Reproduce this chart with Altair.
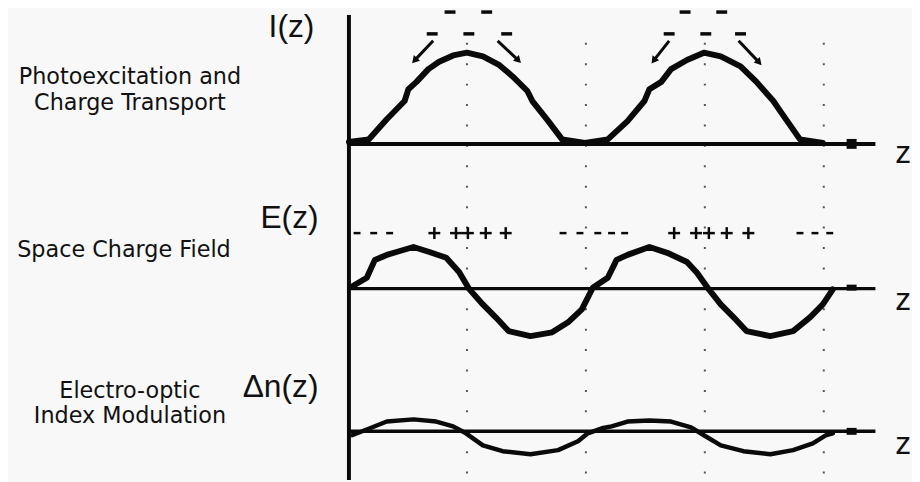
import altair as alt
import pandas as pd

# ---------------- data (z in grating periods, values in arbitrary units) ----------------
z_I = [0.004, 0.088, 0.163, 0.238, 0.254, 0.288, 0.338, 0.383, 0.442, 0.500, 0.567, 0.633,
       0.692, 0.754, 0.775, 0.842, 0.900, 0.996, 1.092, 1.175, 1.246, 1.267, 1.317, 1.358,
       1.425, 1.496, 1.567, 1.650, 1.717, 1.788, 1.817, 1.900, 1.996]
v_I = [0.02, 0.05, 0.27, 0.47, 0.60, 0.68, 0.82, 0.90, 0.97, 1.00, 0.96, 0.87,
       0.74, 0.58, 0.47, 0.25, 0.05, 0.01, 0.05, 0.25, 0.47, 0.60, 0.68, 0.82,
       0.92, 1.00, 0.96, 0.85, 0.68, 0.47, 0.36, 0.05, 0.01]

z_E = [0.017, 0.079, 0.113, 0.163, 0.204, 0.275, 0.342, 0.413, 0.467, 0.508, 0.567, 0.621,
       0.675, 0.767, 0.858, 0.925, 0.983, 1.029, 1.092, 1.129, 1.175, 1.267, 1.342, 1.425,
       1.467, 1.517, 1.567, 1.621, 1.675, 1.775, 1.871, 1.942, 1.996, 2.038]
v_E = [0.05, 0.26, 0.69, 0.81, 0.88, 1.00, 0.88, 0.74, 0.40, 0.00, -0.38, -0.69,
       -1.02, -1.14, -1.05, -0.81, -0.50, 0.02, 0.26, 0.69, 0.81, 1.00, 0.86, 0.64,
       0.38, -0.02, -0.38, -0.69, -1.02, -1.14, -1.02, -0.69, -0.38, -0.02]

z_N = [0.017, 0.092, 0.163, 0.275, 0.371, 0.442, 0.496, 0.567, 0.650, 0.767, 0.883, 0.967,
       1.008, 1.067, 1.108, 1.175, 1.267, 1.358, 1.442, 1.496, 1.567, 1.662, 1.775, 1.871,
       1.954, 2.008, 2.038]
v_N = [-0.18, 0.14, 0.45, 0.55, 0.45, 0.23, -0.09, -0.64, -0.91, -1.05, -0.86, -0.45,
       -0.09, 0.14, 0.23, 0.45, 0.50, 0.45, 0.18, -0.18, -0.64, -0.91, -1.05, -0.86,
       -0.55, -0.18, -0.09]

# charges drawn above I(z)
minus_top_row1 = [0.429, 0.583, 1.417, 1.571]
minus_top_row2 = [0.354, 0.508, 0.667, 1.350, 1.504, 1.650]
# drift arrows (start z, end z)
arrow_start = [0.358, 0.629, 1.350, 1.642]
arrow_end = [0.283, 0.713, 1.288, 1.725]
# space charge signs above E(z)
minus_mid = [0.038, 0.108, 0.175, 0.904, 0.975, 1.050, 1.108, 1.163, 1.900, 1.963, 2.025]
plus_mid = [0.363, 0.454, 0.504, 0.579, 0.663, 1.371, 1.463, 1.517, 1.592, 1.683]
# dotted guides
guides = [0.5, 1.0, 1.5, 2.0]

# ---------------- layout (image pixels) ----------------
X0, PX = 351, 240.0
base = {"I": 143, "E": 289, "N": 433}
amp = {"I": 92, "E": 42, "N": 22}
xs = alt.Scale(domain=[(8 - X0) / PX, (920 - X0) / PX], range=[0, 912])
ys = alt.Scale(domain=[8, 482], range=[0, 474])
FONT = "Liberation Sans"
INK = "#0a0a0a"


def X(f="x"):
    return alt.X(f"{f}:Q", scale=xs, axis=None)


def Y(f="y"):
    return alt.Y(f"{f}:Q", scale=ys, axis=None)


def curve(zs, vs, key):
    return pd.DataFrame({"x": zs, "y": [base[key] - amp[key] * v for v in vs], "i": range(len(zs))})


def zpx(px):
    return px / PX


layers = []

# dotted guides
gd = pd.DataFrame({"x": guides, "y": [41] * 4, "y2": [482] * 4})
layers.append(alt.Chart(gd).mark_rule(color="#555", strokeWidth=2, strokeDash=[2, 18.6]).encode(
    x=X(), y=Y(), y2="y2:Q"))

# axes
ax = pd.DataFrame({
    "x": [0.004, 0.0, 0.0, 0.0],
    "x2": [0.004, 2.217, 2.217, 2.217],
    "y": [13, base["I"], base["E"], base["N"]],
    "y2": [482, base["I"], base["E"], base["N"]],
    "w": [4, 4, 3.5, 3.5],
})
layers.append(alt.Chart(ax).mark_rule(color=INK).encode(
    x=X(), x2="x2:Q", y=Y(), y2="y2:Q", strokeWidth=alt.StrokeWidth("w:Q", scale=None)))
ends = pd.DataFrame({"x": [2.096] * 3, "x2": [2.138] * 3,
                     "y": [base["I"], base["E"] - 1, base["N"]], "w": [10, 6, 7]})
layers.append(alt.Chart(ends).mark_rule(color=INK).encode(
    x=X(), x2="x2:Q", y=Y(), strokeWidth=alt.StrokeWidth("w:Q", scale=None)))

# curves
for zs, vs, key, sw in [(z_I, v_I, "I", 6), (z_E, v_E, "E", 6), (z_N, v_N, "N", 4.5)]:
    layers.append(alt.Chart(curve(zs, vs, key)).mark_line(
        color=INK, strokeWidth=sw, strokeJoin="round", strokeCap="round").encode(
        x=X(), y=Y(), order="i:Q"))

# minus charges above I(z)
mt = pd.DataFrame({
    "x": [z - zpx(5.5) for z in minus_top_row1 + minus_top_row2],
    "x2": [z + zpx(5.5) for z in minus_top_row1 + minus_top_row2],
    "y": [10] * len(minus_top_row1) + [32] * len(minus_top_row2),
})
layers.append(alt.Chart(mt).mark_rule(color=INK, strokeWidth=3.5).encode(x=X(), x2="x2:Q", y=Y()))

# arrows
ar = pd.DataFrame({"x": arrow_start, "x2": arrow_end, "y": [39] * 4, "y2": [58, 58, 58, 60]})
layers.append(alt.Chart(ar).mark_rule(color=INK, strokeWidth=3).encode(x=X(), x2="x2:Q", y=Y(), y2="y2:Q"))
ah = pd.DataFrame({"x": [e for e in arrow_end], "y": [58, 58, 58, 60], "a": [222, 136, 217, 138]})
layers.append(alt.Chart(ah).mark_point(shape="triangle", filled=True, color=INK, size=70, opacity=1).encode(
    x=X(), y=Y(), angle=alt.Angle("a:Q", scale=None)))

# space charge signs
sm = pd.DataFrame({"x": [z - zpx(3.5) for z in minus_mid], "x2": [z + zpx(3.5) for z in minus_mid],
                   "y": [233] * len(minus_mid)})
layers.append(alt.Chart(sm).mark_rule(color=INK, strokeWidth=2.5).encode(x=X(), x2="x2:Q", y=Y()))
sph = pd.DataFrame({"x": [z - zpx(6) for z in plus_mid], "x2": [z + zpx(6) for z in plus_mid],
                    "y": [233] * len(plus_mid)})
layers.append(alt.Chart(sph).mark_rule(color=INK, strokeWidth=2.5).encode(x=X(), x2="x2:Q", y=Y()))
spv = pd.DataFrame({"x": plus_mid, "y": [227] * len(plus_mid), "y2": [239] * len(plus_mid)})
layers.append(alt.Chart(spv).mark_rule(color=INK, strokeWidth=2.5).encode(x=X(), y=Y(), y2="y2:Q"))

# symbol labels
labels = pd.DataFrame([
    ("I(z)", 294, 35, 32),
    ("E(z)", 292, 228, 32),
    ("\u0394n(z)", 283, 398, 32),
    ("z", 911, 162, 32),
    ("z", 911, 311, 32),
    ("z", 911, 456, 32),
], columns=["t", "px", "y", "fs"])
labels["x"] = (labels["px"] - X0) / PX
layers.append(alt.Chart(labels).mark_text(font=FONT, color="#111", baseline="alphabetic", align="center").encode(
    x=X(), y=Y(), text="t:N", size=alt.Size("fs:Q", scale=None)))

# panel descriptions
desc = pd.DataFrame([
    ("Photoexcitation and", 131, 83),
    ("Charge Transport", 131, 109),
    ("Space Charge Field", 125, 257),
    ("Electro-optic", 131, 399),
    ("Index Modulation", 131, 425),
], columns=["t", "px", "y"])
desc["x"] = (desc["px"] - X0) / PX
layers.append(alt.Chart(desc).mark_text(font="DejaVu Sans", color="#111", fontSize=22.5,
                                        baseline="alphabetic", align="center").encode(
    x=X(), y=Y(), text="t:N"))

chart = alt.layer(*layers).properties(
    width=912, height=474, padding=0, autosize=alt.AutoSizeParams(type="none"),
    background="#f8f8f8",
).configure_view(stroke=None)

chart.save("out.html", embed_options={"renderer": "svg", "actions": False})
